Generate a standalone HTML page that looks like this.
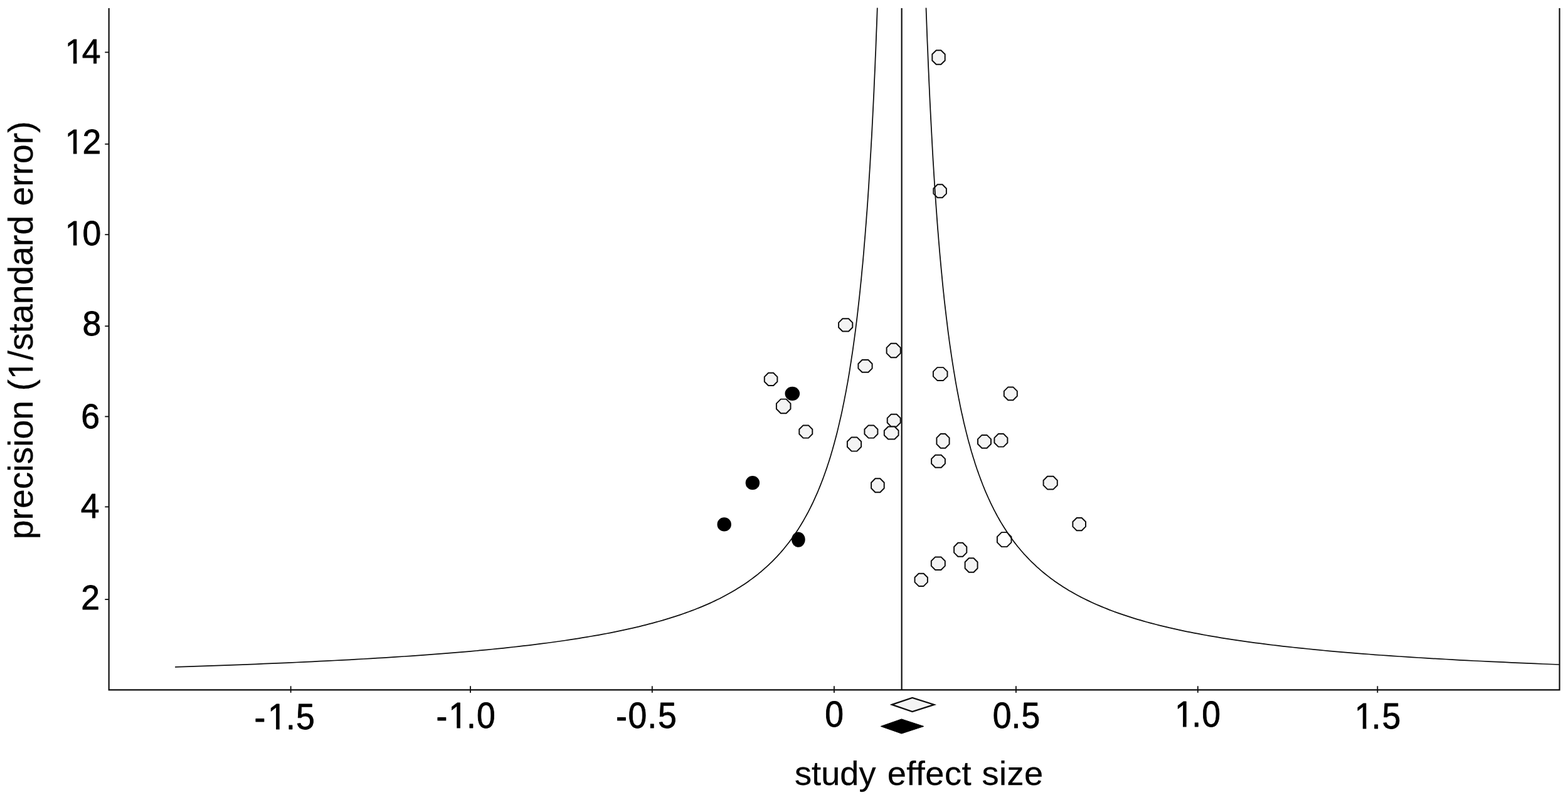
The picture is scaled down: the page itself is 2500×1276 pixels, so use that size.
<!DOCTYPE html>
<html lang="en">
<head>
<meta charset="utf-8">
<title>Funnel plot: precision (1/standard error) by study effect size</title>
<style>
html,body{margin:0;padding:0;background:#fff;}
body{width:2500px;height:1276px;overflow:hidden;}
svg{display:block;}
text{font-family:"Liberation Sans",sans-serif;font-size:53.5px;fill:#000;stroke:#000;stroke-width:0.8px;stroke-linejoin:round;}
#xtitle{font-size:54.2px;stroke-width:0.25px;}
#ytitle{font-size:55.3px;stroke-width:0.25px;}
.mask rect{fill:#fff;stroke:none;}
</style>
</head>
<body>
<svg width="2500" height="1276" viewBox="0 0 2500 1276" role="img" aria-label="Funnel plot of precision by study effect size">
<g>
<rect x="0" y="0" width="2500" height="1276" fill="#ffffff"/>
<g id="axes" fill="none" stroke="#0d0d0d" stroke-width="2.15">
<path d="M173.65,13.0 L173.65,1100.3 L2486.5,1100.3 L2486.5,13.0" stroke-linejoin="miter"/>
<line x1="1437.65" y1="13.0" x2="1437.65" y2="1100.3"/>
</g>
<g id="tickmarks" stroke="#0d0d0d" stroke-width="1.8">
<line x1="167.3" y1="83.4" x2="173.7" y2="83.4"/>
<line x1="167.3" y1="229.8" x2="173.7" y2="229.8"/>
<line x1="167.3" y1="374.2" x2="173.7" y2="374.2"/>
<line x1="167.3" y1="520.2" x2="173.7" y2="520.2"/>
<line x1="167.3" y1="664.4" x2="173.7" y2="664.4"/>
<line x1="167.3" y1="808.4" x2="173.7" y2="808.4"/>
<line x1="167.3" y1="956.1" x2="173.7" y2="956.1"/>
<line x1="463.6" y1="1094.3" x2="463.6" y2="1104.9"/>
<line x1="750.0" y1="1094.3" x2="750.0" y2="1104.9"/>
<line x1="1039.8" y1="1094.3" x2="1039.8" y2="1104.9"/>
<line x1="1329.9" y1="1094.3" x2="1329.9" y2="1104.9"/>
<line x1="1619.9" y1="1094.3" x2="1619.9" y2="1104.9"/>
<line x1="1909.8" y1="1094.3" x2="1909.8" y2="1104.9"/>
<line x1="2196.3" y1="1094.3" x2="2196.3" y2="1104.9"/>
</g>
<g id="points" stroke="#0d0d0d" stroke-width="1.95" stroke-linejoin="round">
<ellipse cx="1263.3" cy="627.8" rx="11.8" ry="11.1" fill="#000" stroke="none"/>
<ellipse cx="1199.9" cy="770.2" rx="11.2" ry="11.1" fill="#000" stroke="none"/>
<ellipse cx="1154.7" cy="836.4" rx="11.2" ry="11.1" fill="#000" stroke="none"/>
<ellipse cx="1272.9" cy="860.6" rx="10.8" ry="12.2" fill="#000" stroke="none"/>
<polygon points="1492.7,80.2 1500.3,80.2 1506.7,86.5 1506.7,96.5 1500.3,102.8 1492.7,102.8 1486.3,96.5 1486.3,86.5" fill="#f4f4f4"/>
<polygon points="1494.7,294.3 1502.5,294.3 1508.9,300.7 1508.9,308.9 1502.5,315.3 1494.7,315.3 1488.3,308.9 1488.3,300.7" fill="#f4f4f4"/>
<polygon points="1343.4,508.3 1353.0,508.3 1359.3,514.6 1359.3,522.2 1353.0,528.5 1343.4,528.5 1337.1,522.2 1337.1,514.6" fill="#f4f4f4"/>
<polygon points="1420.5,547.7 1428.9,547.7 1435.8,554.6 1435.8,563.4 1428.9,570.3 1420.5,570.3 1413.6,563.4 1413.6,554.6" fill="#f4f4f4"/>
<polygon points="1374.6,574.0 1384.4,574.0 1390.6,580.2 1390.6,587.6 1384.4,593.8 1374.6,593.8 1368.4,587.6 1368.4,580.2" fill="#f4f4f4"/>
<polygon points="1494.4,586.1 1504.0,586.1 1510.5,592.6 1510.5,600.4 1504.0,606.9 1494.4,606.9 1487.9,600.4 1487.9,592.6" fill="#f4f4f4"/>
<polygon points="1225.1,594.8 1233.1,594.8 1239.4,601.1 1239.4,608.7 1233.1,615.0 1225.1,615.0 1218.8,608.7 1218.8,601.1" fill="#f4f4f4"/>
<polygon points="1607.3,617.4 1615.3,617.4 1621.8,623.9 1621.8,631.7 1615.3,638.2 1607.3,638.2 1600.8,631.7 1600.8,623.9" fill="#f4f4f4"/>
<polygon points="1244.9,636.6 1253.5,636.6 1260.5,643.6 1260.5,652.2 1253.5,659.2 1244.9,659.2 1237.9,652.2 1237.9,643.6" fill="#f4f4f4"/>
<polygon points="1420.8,660.8 1429.6,660.8 1435.7,666.9 1435.7,674.3 1429.6,680.4 1420.8,680.4 1414.7,674.3 1414.7,666.9" fill="#f4f4f4"/>
<polygon points="1280.6,678.4 1289.0,678.4 1295.3,684.7 1295.3,692.3 1289.0,698.6 1280.6,698.6 1274.3,692.3 1274.3,684.7" fill="#f4f4f4"/>
<polygon points="1384.7,678.4 1393.1,678.4 1399.4,684.7 1399.4,692.3 1393.1,698.6 1384.7,698.6 1378.4,692.3 1378.4,684.7" fill="#f4f4f4"/>
<polygon points="1416.1,680.5 1426.3,680.5 1432.6,686.7 1432.6,694.3 1426.3,700.5 1416.1,700.5 1409.8,694.3 1409.8,686.7" fill="#f4f4f4"/>
<polygon points="1499.7,692.0 1507.3,692.0 1513.6,698.4 1513.6,708.4 1507.3,714.8 1499.7,714.8 1493.4,708.4 1493.4,698.4" fill="#f4f4f4"/>
<polygon points="1565.5,693.9 1573.5,693.9 1580.0,700.4 1580.0,708.2 1573.5,714.7 1565.5,714.7 1559.0,708.2 1559.0,700.4" fill="#f4f4f4"/>
<polygon points="1591.8,692.0 1600.0,692.0 1606.4,698.4 1606.4,706.2 1600.0,712.6 1591.8,712.6 1585.4,706.2 1585.4,698.4" fill="#f4f4f4"/>
<polygon points="1357.7,697.4 1366.3,697.4 1373.1,704.3 1373.1,712.7 1366.3,719.6 1357.7,719.6 1350.9,712.7 1350.9,704.3" fill="#f4f4f4"/>
<polygon points="1491.3,725.7 1500.7,725.7 1506.9,731.9 1506.9,739.5 1500.7,745.7 1491.3,745.7 1485.1,739.5 1485.1,731.9" fill="#f4f4f4"/>
<polygon points="1395.5,763.3 1403.3,763.3 1409.7,769.8 1409.7,778.8 1403.3,785.3 1395.5,785.3 1389.1,778.8 1389.1,769.8" fill="#f4f4f4"/>
<polygon points="1670.0,759.8 1679.4,759.8 1685.8,766.2 1685.8,774.0 1679.4,780.4 1670.0,780.4 1663.6,774.0 1663.6,766.2" fill="#f4f4f4"/>
<polygon points="1716.7,826.0 1724.7,826.0 1731.0,832.3 1731.0,839.9 1724.7,846.2 1716.7,846.2 1710.4,839.9 1710.4,832.3" fill="#f4f4f4"/>
<polygon points="1596.9,849.1 1605.5,849.1 1612.5,856.1 1612.5,865.1 1605.5,872.1 1596.9,872.1 1589.9,865.1 1589.9,856.1" fill="#fff"/>
<polygon points="1527.4,865.8 1535.0,865.8 1541.3,872.2 1541.3,881.4 1535.0,887.8 1527.4,887.8 1521.1,881.4 1521.1,872.2" fill="#f4f4f4"/>
<polygon points="1491.2,888.4 1500.4,888.4 1506.8,894.8 1506.8,902.6 1500.4,909.0 1491.2,909.0 1484.8,902.6 1484.8,894.8" fill="#f4f4f4"/>
<polygon points="1544.8,890.2 1552.4,890.2 1558.6,896.5 1558.6,906.5 1552.4,912.8 1544.8,912.8 1538.6,906.5 1538.6,896.5" fill="#f4f4f4"/>
<polygon points="1464.8,914.7 1472.6,914.7 1478.9,921.0 1478.9,928.6 1472.6,934.9 1464.8,934.9 1458.5,928.6 1458.5,921.0" fill="#f4f4f4"/>
</g>
<g id="funnel" fill="none" stroke="#0d0d0d" stroke-width="1.75" stroke-linejoin="round">
<path d="M1398.8,12.5 L1398.3,26.6 L1397.8,40.5 L1397.2,54.3 L1396.7,67.9 L1396.2,81.2 L1395.6,94.5 L1395.1,107.5 L1394.5,120.4 L1393.9,133.1 L1393.4,145.6 L1392.8,158.0 L1392.2,170.3 L1391.6,182.3 L1391.0,194.2 L1390.4,206.0 L1389.8,217.6 L1389.1,229.0 L1388.5,240.3 L1387.8,251.5 L1387.2,262.5 L1386.5,273.4 L1385.8,284.1 L1385.2,294.7 L1384.5,305.1 L1383.8,315.4 L1383.1,325.6 L1382.4,335.7 L1381.6,345.6 L1380.9,355.4 L1380.1,365.1 L1379.4,374.6 L1378.6,384.0 L1377.8,393.3 L1377.1,402.5 L1376.3,411.5 L1375.5,420.5 L1374.6,429.3 L1373.8,438.0 L1373.0,446.6 L1372.1,455.0 L1371.3,463.4 L1370.4,471.7 L1369.5,479.8 L1368.6,487.9 L1367.7,495.8 L1366.8,503.7 L1365.9,511.4 L1364.9,519.0 L1364.0,526.6 L1363.0,534.0 L1362.0,541.4 L1361.0,548.6 L1360.0,555.8 L1359.0,562.8 L1357.9,569.8 L1356.9,576.7 L1355.8,583.5 L1354.8,590.2 L1353.7,596.8 L1352.6,603.3 L1351.5,609.8 L1350.3,616.2 L1349.2,622.4 L1348.0,628.6 L1346.8,634.7 L1345.6,640.8 L1344.4,646.7 L1343.2,652.6 L1342.0,658.4 L1340.7,664.2 L1339.4,669.8 L1338.1,675.4 L1336.8,680.9 L1335.5,686.4 L1334.2,691.7 L1332.8,697.0 L1331.4,702.3 L1330.0,707.4 L1328.6,712.5 L1327.2,717.6 L1325.7,722.5 L1324.3,727.4 L1322.8,732.3 L1321.3,737.0 L1319.7,741.7 L1318.2,746.4 L1316.6,751.0 L1315.0,755.5 L1313.4,760.0 L1311.8,764.4 L1310.1,768.8 L1308.4,773.1 L1306.7,777.3 L1305.0,781.5 L1303.3,785.6 L1301.5,789.7 L1299.7,793.7 L1297.9,797.7 L1296.1,801.6 L1294.2,805.5 L1292.3,809.3 L1290.4,813.1 L1288.5,816.8 L1286.5,820.5 L1284.5,824.1 L1282.5,827.7 L1280.5,831.3 L1278.4,834.8 L1276.3,838.2 L1274.2,841.6 L1272.1,845.0 L1269.9,848.3 L1267.7,851.5 L1265.5,854.8 L1263.2,857.9 L1260.9,861.1 L1258.6,864.2 L1256.2,867.3 L1253.8,870.3 L1251.4,873.3 L1249.0,876.2 L1246.5,879.1 L1244.0,882.0 L1241.4,884.8 L1238.9,887.6 L1236.2,890.4 L1233.6,893.1 L1230.9,895.8 L1228.2,898.4 L1225.4,901.1 L1222.7,903.6 L1219.8,906.2 L1217.0,908.7 L1214.1,911.2 L1211.1,913.6 L1208.2,916.1 L1205.1,918.5 L1202.1,920.8 L1199.0,923.1 L1195.8,925.4 L1192.7,927.7 L1189.5,930.0 L1186.2,932.2 L1182.9,934.3 L1179.5,936.5 L1176.1,938.6 L1172.7,940.7 L1169.2,942.8 L1165.7,944.8 L1162.1,946.8 L1158.5,948.8 L1154.8,950.8 L1151.1,952.7 L1147.4,954.7 L1143.5,956.5 L1139.7,958.4 L1135.8,960.2 L1131.8,962.1 L1127.8,963.9 L1123.7,965.6 L1119.6,967.4 L1115.4,969.1 L1111.2,970.8 L1106.9,972.5 L1102.5,974.1 L1098.1,975.8 L1093.6,977.4 L1089.1,979.0 L1084.5,980.6 L1079.9,982.1 L1075.2,983.6 L1070.4,985.2 L1065.6,986.7 L1060.7,988.1 L1055.8,989.6 L1050.8,991.0 L1045.7,992.4 L1040.5,993.8 L1035.3,995.2 L1030.0,996.6 L1024.7,997.9 L1019.2,999.3 L1013.7,1000.6 L1008.2,1001.9 L1002.5,1003.1 L996.8,1004.4 L991.0,1005.6 L985.1,1006.9 L979.2,1008.1 L973.2,1009.3 L967.1,1010.5 L960.9,1011.6 L954.6,1012.8 L948.3,1013.9 L941.8,1015.0 L935.3,1016.1 L928.7,1017.2 L922.0,1018.3 L915.2,1019.4 L908.4,1020.4 L901.4,1021.5 L894.4,1022.5 L887.2,1023.5 L880.0,1024.5 L872.7,1025.5 L865.2,1026.4 L857.7,1027.4 L850.1,1028.3 L842.4,1029.3 L834.5,1030.2 L826.6,1031.1 L818.6,1032.0 L810.5,1032.9 L802.2,1033.8 L793.9,1034.6 L785.4,1035.5 L776.8,1036.3 L768.1,1037.1 L759.3,1038.0 L750.4,1038.8 L741.4,1039.6 L732.2,1040.4 L723.0,1041.1 L713.6,1041.9 L704.1,1042.7 L694.4,1043.4 L684.7,1044.2 L674.8,1044.9 L664.7,1045.6 L654.6,1046.3 L644.3,1047.0 L633.9,1047.7 L623.3,1048.4 L612.6,1049.1 L601.8,1049.7 L590.8,1050.4 L579.6,1051.0 L568.4,1051.7 L556.9,1052.3 L545.4,1052.9 L533.6,1053.5 L521.8,1054.1 L509.7,1054.7 L497.5,1055.3 L485.2,1055.9 L472.6,1056.5 L460.0,1057.1 L447.1,1057.6 L434.1,1058.2 L420.9,1058.7 L407.5,1059.3 L394.0,1059.8 L380.3,1060.3 L366.4,1060.8 L352.3,1061.3 L338.1,1061.8 L323.6,1062.3 L309.0,1062.8 L294.1,1063.3 L279.1,1063.8"/>
<path d="M1476.5,12.5 L1477.0,26.2 L1477.5,39.7 L1478.0,53.1 L1478.5,66.3 L1479.1,79.3 L1479.6,92.2 L1480.1,104.9 L1480.7,117.4 L1481.2,129.8 L1481.8,142.0 L1482.3,154.1 L1482.9,166.0 L1483.5,177.7 L1484.1,189.4 L1484.7,200.8 L1485.3,212.2 L1485.9,223.3 L1486.5,234.4 L1487.1,245.3 L1487.7,256.1 L1488.4,266.7 L1489.0,277.2 L1489.7,287.6 L1490.3,297.8 L1491.0,307.9 L1491.7,317.9 L1492.4,327.7 L1493.1,337.5 L1493.8,347.1 L1494.5,356.6 L1495.2,365.9 L1496.0,375.2 L1496.7,384.3 L1497.5,393.3 L1498.2,402.2 L1499.0,411.0 L1499.8,419.7 L1500.6,428.3 L1501.4,436.7 L1502.2,445.1 L1503.0,453.3 L1503.8,461.5 L1504.7,469.5 L1505.5,477.5 L1506.4,485.3 L1507.3,493.1 L1508.2,500.7 L1509.1,508.3 L1510.0,515.7 L1510.9,523.1 L1511.8,530.4 L1512.8,537.5 L1513.7,544.6 L1514.7,551.6 L1515.7,558.5 L1516.7,565.4 L1517.7,572.1 L1518.7,578.7 L1519.8,585.3 L1520.8,591.8 L1521.9,598.2 L1522.9,604.5 L1524.0,610.8 L1525.1,616.9 L1526.2,623.0 L1527.4,629.0 L1528.5,635.0 L1529.7,640.8 L1530.8,646.6 L1532.0,652.3 L1533.2,658.0 L1534.5,663.5 L1535.7,669.0 L1536.9,674.5 L1538.2,679.8 L1539.5,685.1 L1540.8,690.4 L1542.1,695.5 L1543.4,700.6 L1544.8,705.7 L1546.2,710.6 L1547.5,715.5 L1548.9,720.4 L1550.4,725.2 L1551.8,729.9 L1553.3,734.6 L1554.7,739.2 L1556.2,743.7 L1557.7,748.2 L1559.3,752.6 L1560.8,757.0 L1562.4,761.3 L1564.0,765.6 L1565.6,769.8 L1567.2,774.0 L1568.9,778.1 L1570.5,782.2 L1572.2,786.2 L1574.0,790.1 L1575.7,794.0 L1577.5,797.9 L1579.2,801.7 L1581.0,805.4 L1582.9,809.2 L1584.7,812.8 L1586.6,816.4 L1588.5,820.0 L1590.4,823.6 L1592.4,827.0 L1594.3,830.5 L1596.3,833.9 L1598.4,837.2 L1600.4,840.5 L1602.5,843.8 L1604.6,847.0 L1606.7,850.2 L1608.9,853.4 L1611.1,856.5 L1613.3,859.6 L1615.5,862.6 L1617.8,865.6 L1620.1,868.5 L1622.4,871.5 L1624.8,874.3 L1627.2,877.2 L1629.6,880.0 L1632.0,882.8 L1634.5,885.5 L1637.0,888.2 L1639.6,890.9 L1642.1,893.5 L1644.7,896.1 L1647.4,898.7 L1650.1,901.2 L1652.8,903.8 L1655.5,906.2 L1658.3,908.7 L1661.1,911.1 L1664.0,913.5 L1666.8,915.8 L1669.8,918.1 L1672.7,920.4 L1675.7,922.7 L1678.8,924.9 L1681.8,927.2 L1684.9,929.3 L1688.1,931.5 L1691.3,933.6 L1694.5,935.7 L1697.8,937.8 L1701.1,939.8 L1704.5,941.9 L1707.9,943.8 L1711.3,945.8 L1714.8,947.8 L1718.4,949.7 L1721.9,951.6 L1725.6,953.5 L1729.2,955.3 L1733.0,957.1 L1736.7,958.9 L1740.5,960.7 L1744.4,962.5 L1748.3,964.2 L1752.3,965.9 L1756.3,967.6 L1760.4,969.3 L1764.5,970.9 L1768.6,972.6 L1772.9,974.2 L1777.1,975.8 L1781.5,977.3 L1785.9,978.9 L1790.3,980.4 L1794.8,981.9 L1799.4,983.4 L1804.0,984.9 L1808.6,986.3 L1813.4,987.8 L1818.2,989.2 L1823.0,990.6 L1827.9,992.0 L1832.9,993.3 L1837.9,994.7 L1843.1,996.0 L1848.2,997.3 L1853.5,998.6 L1858.8,999.9 L1864.1,1001.2 L1869.6,1002.4 L1875.1,1003.6 L1880.7,1004.9 L1886.3,1006.1 L1892.0,1007.3 L1897.8,1008.4 L1903.7,1009.6 L1909.6,1010.7 L1915.7,1011.9 L1921.8,1013.0 L1927.9,1014.1 L1934.2,1015.2 L1940.5,1016.2 L1946.9,1017.3 L1953.4,1018.3 L1960.0,1019.4 L1966.7,1020.4 L1973.4,1021.4 L1980.3,1022.4 L1987.2,1023.4 L1994.2,1024.3 L2001.3,1025.3 L2008.5,1026.2 L2015.8,1027.2 L2023.1,1028.1 L2030.6,1029.0 L2038.2,1029.9 L2045.8,1030.8 L2053.6,1031.7 L2061.4,1032.5 L2069.4,1033.4 L2077.5,1034.2 L2085.6,1035.0 L2093.9,1035.9 L2102.2,1036.7 L2110.7,1037.5 L2119.3,1038.3 L2128.0,1039.1 L2136.8,1039.8 L2145.7,1040.6 L2154.8,1041.3 L2163.9,1042.1 L2173.2,1042.8 L2182.5,1043.5 L2192.0,1044.3 L2201.7,1045.0 L2211.4,1045.7 L2221.3,1046.3 L2231.3,1047.0 L2241.4,1047.7 L2251.7,1048.4 L2262.0,1049.0 L2272.6,1049.7 L2283.2,1050.3 L2294.0,1050.9 L2304.9,1051.5 L2316.0,1052.2 L2327.2,1052.8 L2338.5,1053.4 L2350.0,1054.0 L2361.6,1054.5 L2373.4,1055.1 L2385.4,1055.7 L2397.5,1056.2 L2409.7,1056.8 L2422.1,1057.4 L2434.7,1057.9 L2447.4,1058.4 L2460.2,1059.0 L2473.3,1059.5 L2486.5,1060.0"/>
</g>
<polygon points="1422.0,1123.9 1454.6,1112.9 1489.5,1123.9 1454.6,1135.0" fill="#f4f4f4" stroke="#0d0d0d" stroke-width="2.2" stroke-linejoin="miter"/>
<polygon points="1404.3,1158.5 1437.4,1146.9 1472.8,1158.5 1437.4,1170.1" fill="#000" stroke="#000" stroke-width="1"/>
<g id="ylabels">
<text transform="translate(0,101.0) scale(1,1.03)" x="103.83 130.64" y="0 0">14</text>
<text transform="translate(0,245.1) scale(1,1.03)" x="103.83 131.42" y="0 0">12</text>
<text transform="translate(0,391.1) scale(1,1.03)" x="103.83 131.42" y="0 0">10</text>
<text transform="translate(0,535.1) scale(1,1.03)" x="131.42" y="0">8</text>
<text transform="translate(0,683.0) scale(1,1.03)" x="129.34" y="0">6</text>
<text transform="translate(0,826.0) scale(1,1.03)" x="128.74" y="0">4</text>
<text transform="translate(0,972.0) scale(1,1.03)" x="129.22" y="0">2</text>
</g>
<g id="xlabels">
<text transform="translate(0,1163.1) scale(1,1.055)" x="405.54 427.08 455.97 471.98" y="1.1 0 0 0">-1.5</text>
<text transform="translate(0,1161.3) scale(1,1.055)" x="695.54 715.28 744.02 760.12" y="1.1 0 0 0">-1.0</text>
<text transform="translate(0,1161.3) scale(1,1.055)" x="982.04 1001.52 1032.27 1048.93" y="1.1 0 0 0">-0.5</text>
<text transform="translate(0,1158.6) scale(1,1.055)" x="1315.27" y="0">0</text>
<text transform="translate(0,1161.3) scale(1,1.055)" x="1582.87 1612.52 1628.53" y="0 0 0">0.5</text>
<text transform="translate(0,1159.0) scale(1,1.055)" x="1872.98 1900.37 1916.32" y="0 0 0">1.0</text>
<text transform="translate(0,1161.9) scale(1,1.055)" x="2159.78 2186.87 2203.48" y="0 0 0">1.5</text>
</g>
<g class="mask">
<rect x="106.51" y="96.00" width="10.33" height="6.00"/><rect x="122.46" y="96.00" width="9.91" height="6.00"/>
<rect x="106.51" y="240.00" width="10.33" height="6.00"/><rect x="122.46" y="240.00" width="9.91" height="6.00"/>
<rect x="106.51" y="386.00" width="10.33" height="6.00"/><rect x="122.46" y="386.00" width="9.91" height="6.00"/>
<rect x="429.76" y="1158.00" width="10.33" height="6.00"/><rect x="445.71" y="1158.00" width="9.91" height="6.00"/>
<rect x="717.96" y="1156.00" width="10.33" height="6.00"/><rect x="733.91" y="1156.00" width="9.91" height="6.00"/>
<rect x="1875.66" y="1154.00" width="10.33" height="6.00"/><rect x="1891.61" y="1154.00" width="9.91" height="6.00"/>
<rect x="2162.46" y="1157.00" width="10.33" height="6.00"/><rect x="2178.41" y="1157.00" width="9.91" height="6.00"/>
</g>
<text id="xtitle" y="1252.2"><tspan x="1267.0">study</tspan> <tspan x="1414.7" letter-spacing="0.45">effect</tspan> <tspan x="1565.5" letter-spacing="0.45">size</tspan></text>
<g transform="translate(52.2,526.8) rotate(-90)">
<text id="ytitle" text-anchor="middle" x="0" y="0">precision (1/standard error)</text>
<g class="mask"><rect x="-75.31" y="-5.20" width="10.64" height="6.00"/><rect x="-59.43" y="-5.20" width="10.21" height="6.00"/>
</g>
</g>
</g>
</svg>
</body>
</html>
